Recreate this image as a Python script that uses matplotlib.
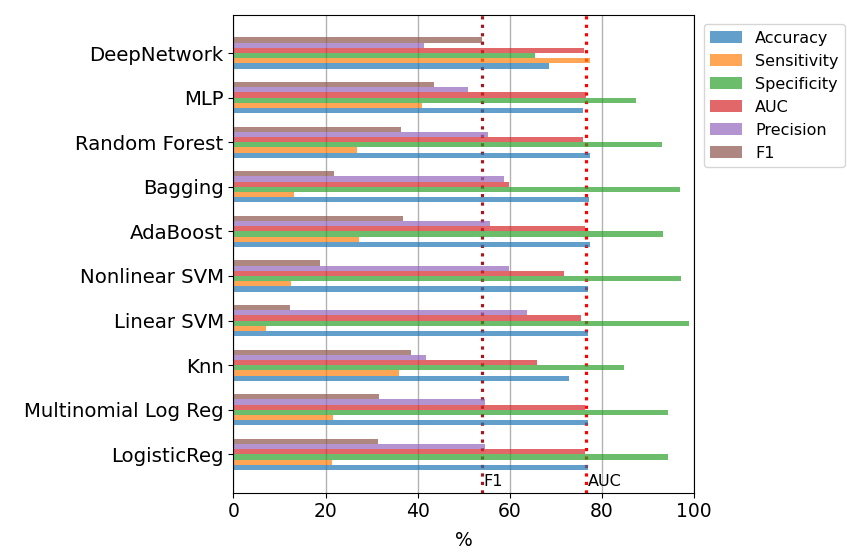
import numpy as np
import matplotlib
matplotlib.use('Agg')
import matplotlib.pyplot as plt

models = ['LogisticReg', 'Multinomial Log Reg', 'Knn', 'Linear SVM', 'Nonlinear SVM',
          'AdaBoost', 'Bagging', 'Random Forest', 'MLP', 'DeepNetwork']
metrics = ['Accuracy', 'Sensitivity', 'Specificity', 'AUC', 'Precision', 'F1']

accuracy    = [77.0, 77.0, 72.8, 76.9, 77.0, 77.4, 77.1, 77.4, 75.8, 68.4]
sensitivity = [21.5, 21.7, 36.0, 7.0, 12.4, 27.3, 13.2, 26.8, 40.9, 77.4]
specificity = [94.2, 94.2, 84.8, 98.8, 97.1, 93.2, 97.0, 93.1, 87.3, 65.4]
auc         = [76.2, 76.3, 65.8, 75.4, 71.8, 76.3, 59.7, 75.9, 76.5, 76.1]
precision   = [54.7, 54.7, 41.9, 63.7, 59.8, 55.6, 58.7, 55.2, 50.8, 41.4]
f1          = [31.4, 31.6, 38.5, 12.3, 18.9, 36.8, 21.8, 36.3, 43.5, 53.9]

f1_ref, auc_ref = 53.9, 76.6

series = [accuracy, sensitivity, specificity, auc, precision, f1]
colors = ['#1f77b4', '#ff7f0e', '#2ca02c', '#d62728', '#9467bd', '#8c564b']

fig = plt.figure(figsize=(8.47, 5.52), dpi=100)
ax = fig.add_axes([0.2755, 0.1074, 0.5442, 0.866])

y = np.arange(len(models))
n = len(series); h = 0.7 / n
for i, (vals, c, name) in enumerate(zip(series, colors, metrics)):
    ax.barh(y - 0.35 + (i + 0.5) * h, vals, h, color=c, alpha=0.7, label=name, zorder=2)

ax.axvline(f1_ref, color='#a01820', ls=':', lw=2.3, zorder=1)
ax.axvline(auc_ref, color='red', ls=':', lw=2.3, zorder=1)
ax.text(f1_ref + 0.3, -0.6, 'F1', fontsize=11.5, va='center', ha='left')
ax.text(auc_ref + 0.3, -0.6, 'AUC', fontsize=11.5, va='center', ha='left')

ax.set_yticks(y)
ax.set_yticklabels(models, fontsize=14.2)
ax.set_xlim(0, 100)
ax.set_ylim(-0.86, 9.86)
ax.set_xticks(range(0, 101, 20))
ax.tick_params(axis='x', labelsize=13.5)
ax.set_xlabel('%', fontsize=13.5, labelpad=7)
ax.grid(axis='x', color='gray', alpha=0.6, lw=1)
ax.set_axisbelow(True)
ax.legend(loc='upper left', bbox_to_anchor=(1.0, 1.0), fontsize=11.5, borderaxespad=0.6)

fig.savefig('out.png', dpi=100)
